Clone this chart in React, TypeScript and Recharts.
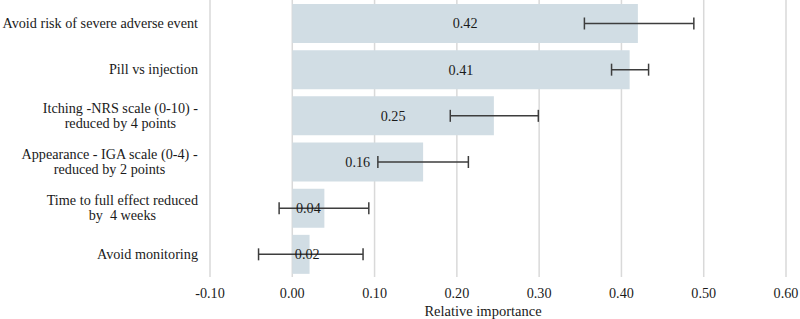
import React from "react";
import { BarChart, Bar, XAxis, YAxis, CartesianGrid, ErrorBar, LabelList } from "recharts";

// Attribute labels (use "\n" for a line break)
const attributes = [
  "Avoid risk of severe adverse event",
  "Pill vs injection",
  "Itching -NRS scale (0-10) -\nreduced by 4 points",
  "Appearance - IGA scale (0-4) -\nreduced by 2 points",
  "Time to full effect reduced\nby\u00a0 4 weeks",
  "Avoid monitoring",
];
const importance = [0.42, 0.41, 0.245, 0.159, 0.039, 0.021];
const valueLabels = ["0.42", "0.41", "0.25", "0.16", "0.04", "0.02"];
const ciLow = [0.355, 0.388, 0.192, 0.104, -0.016, -0.041];
const ciHigh = [0.488, 0.433, 0.299, 0.214, 0.093, 0.086];
const xTicks = [-0.1, 0, 0.1, 0.2, 0.3, 0.4, 0.5, 0.6];

const data = attributes.map((name, i) => ({
  name,
  value: importance[i],
  label: valueLabels[i],
  err: [importance[i] - ciLow[i], ciHigh[i] - importance[i]],
}));

const FONT = "'Liberation Serif', 'Times New Roman', serif";
const FONT_SIZE = 14.2;

let ctx: CanvasRenderingContext2D | null = null;
function textWidth(s: string, size = FONT_SIZE): number {
  if (!ctx) {
    ctx = document.createElement("canvas").getContext("2d");
  }
  if (!ctx) return s.length * size * 0.45;
  ctx.font = `${size}px 'Liberation Serif'`;
  return ctx.measureText(s).width;
}

// Category tick: lines centred on each other, block right-aligned to the axis
const CategoryTick = (props: any) => {
  const { x, y, payload } = props;
  const lines = String(payload.value).split("\n");
  const maxW = Math.max(...lines.map((l) => textWidth(l)));
  const cx = x - maxW / 2;
  const lh = 14.5;
  const y0 = y - ((lines.length - 1) * lh) / 2;
  return (
    <text textAnchor="middle" fontFamily={FONT} fontSize={FONT_SIZE} fill="#1a1a1a">
      {lines.map((l, i) => (
        <tspan key={i} x={cx} y={y0 + i * lh} dy="0.35em">
          {l}
        </tspan>
      ))}
    </text>
  );
};

// Value label in the bar; narrow bars push it out from the base
const ValueLabel = (props: any) => {
  const { x, y, width, height, value } = props;
  const cx = x + Math.max(width / 2, 15);
  return (
    <text
      x={cx}
      y={y + height / 2}
      dy="0.35em"
      textAnchor="middle"
      fontFamily={FONT}
      fontSize={FONT_SIZE}
      fill="#1a1a1a"
    >
      {value}
    </text>
  );
};

export default function App() {
  return (
    <div style={{ width: 800, height: 319, background: "#fff" }}>
      <style>{`body{margin:0}`}</style>
      <BarChart
        width={800}
        height={319}
        data={data}
        layout="vertical"
        margin={{ top: 0, right: 14, bottom: 0, left: 0 }}
      >
        <CartesianGrid horizontal={false} stroke="#d9d9d9" strokeWidth={1.5} />
        <XAxis
          type="number"
          domain={[-0.1, 0.6]}
          ticks={xTicks}
          allowDataOverflow
          tickFormatter={(v: number) => v.toFixed(2)}
          tick={{ fontFamily: FONT, fontSize: FONT_SIZE, fill: "#1a1a1a" }}
          tickLine={false}
          axisLine={false}
          tickMargin={5}
          height={42}
          label={{
            value: "Relative importance",
            position: "insideBottom",
            offset: 3,
            dx: -15,
            style: { fontFamily: FONT, fontSize: 14.5, fill: "#1a1a1a" },
          }}
        />
        <YAxis
          type="category"
          dataKey="name"
          width={210}
          tick={<CategoryTick />}
          tickLine={false}
          axisLine={false}
          tickMargin={6}
          interval={0}
        />
        <Bar dataKey="value" fill="#d1dde4" barSize={39} isAnimationActive={false}>
          <LabelList dataKey="label" content={<ValueLabel />} />
          <ErrorBar
            dataKey="err"
            direction="x"
            width={6}
            stroke="#3d3d3d"
            strokeWidth={1.5}
            isAnimationActive={false}
          />
        </Bar>
      </BarChart>
    </div>
  );
}
